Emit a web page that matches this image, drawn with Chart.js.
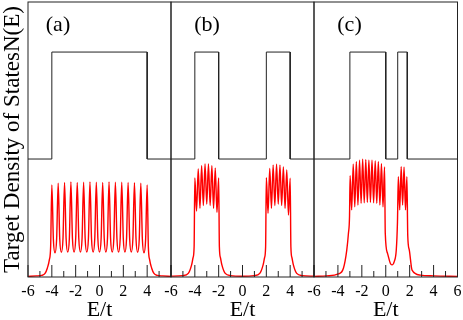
<!DOCTYPE html>
<html><head><meta charset="utf-8">
<script src="https://cdn.jsdelivr.net/npm/chart.js@4/dist/chart.umd.min.js"></script>
<style>
html,body{margin:0;padding:0;background:#fff;}
#wrap{position:relative;width:463px;height:320px;overflow:hidden;background:#fff;}
canvas{position:absolute;top:0;}
</style></head><body>
<div id="wrap">
<canvas id="ca" width="185" height="320" style="left:0px"></canvas>
<canvas id="cb" width="186" height="320" style="left:150px"></canvas>
<canvas id="cc" width="185" height="320" style="left:293px"></canvas>
</div>
<script>
// ---- data ----
const xTicks = [-6, -4, -2, 0, 2, 4, 6];
const minorTicks = [-5, -3, -1, 1, 3, 5];
const panelLabels = ['(a)', '(b)', '(c)'];
const yTitle = 'Target Density of StatesN(E)';
const xTitle = 'E/t';

// target step functions (black)
const stepAX = [-6, -4, -4, 4, 4, 6];
const stepAY = [0.429, 0.429, 0.818, 0.818, 0.429, 0.429];
const stepBX = [-6, -4, -4, -2, -2, 2, 2, 4, 4, 6];
const stepBY = [0.429, 0.429, 0.818, 0.818, 0.429, 0.429, 0.818, 0.818, 0.429, 0.429];
const stepCX = [-6, -3, -3, 0, 0, 1, 1, 1.8, 1.8, 6];
const stepCY = [0.429, 0.429, 0.818, 0.818, 0.429, 0.429, 0.818, 0.818, 0.429, 0.429];

// resulting density of states (red)
const dosAX = [-6, -5.3, -4.85, -4.57, -4.38, -4.21, -4.1,
  -4.000, -3.870, -3.733, -3.597, -3.467, -3.337, -3.200, -3.063, -2.933, -2.803, -2.667,
  -2.530, -2.400, -2.270, -2.133, -1.997, -1.867, -1.737, -1.600, -1.463, -1.333, -1.203, -1.067,
  -0.930, -0.800, -0.670, -0.533, -0.397, -0.267, -0.137, 0.000,
  0.137, 0.267, 0.397, 0.533, 0.670, 0.800, 0.930, 1.067, 1.203, 1.333, 1.463, 1.600,
  1.737, 1.867, 1.997, 2.133, 2.270, 2.400, 2.530, 2.667, 2.803, 2.933, 3.063, 3.200,
  3.337, 3.467, 3.597, 3.733, 3.870, 4.000,
  4.1, 4.21, 4.38, 4.57, 4.85, 5.3, 6];
const dosAY = [0.002, 0.004, 0.006, 0.013, 0.032, 0.062, 0.11,
  0.335, 0.136, 0.088, 0.138, 0.341, 0.139, 0.090, 0.140, 0.344, 0.140, 0.091,
  0.140, 0.346, 0.140, 0.091, 0.140, 0.344, 0.140, 0.091, 0.140, 0.345, 0.140, 0.091,
  0.140, 0.346, 0.140, 0.091, 0.140, 0.345, 0.140, 0.091,
  0.140, 0.344, 0.140, 0.091, 0.140, 0.346, 0.140, 0.091, 0.140, 0.345, 0.140, 0.091,
  0.140, 0.345, 0.140, 0.091, 0.140, 0.344, 0.140, 0.091, 0.140, 0.343, 0.140, 0.090,
  0.139, 0.341, 0.138, 0.088, 0.136, 0.335,
  0.11, 0.062, 0.032, 0.013, 0.006, 0.004, 0.002];

const dosBX = [-6, -5, -4.55, -4.27, -4.15, -4.06,
  -4.000, -3.857, -3.714, -3.571, -3.429, -3.286, -3.143, -3.000, -2.857, -2.714, -2.571, -2.429, -2.286, -2.143, -2.000,
  -1.94, -1.85, -1.73, -1.45, -1.0, 0, 1.0, 1.45, 1.73, 1.85, 1.94,
  2.000, 2.143, 2.286, 2.429, 2.571, 2.714, 2.857, 3.000, 3.143, 3.286, 3.429, 3.571, 3.714, 3.857, 4.000,
  4.06, 4.15, 4.27, 4.55, 5, 6];
const dosBY = [0.003, 0.005, 0.013, 0.044, 0.07, 0.11,
  0.36, 0.24, 0.393, 0.25, 0.405, 0.26, 0.411, 0.265, 0.411, 0.26, 0.405, 0.25, 0.396, 0.235, 0.36,
  0.11, 0.07, 0.044, 0.013, 0.005, 0.003, 0.005, 0.013, 0.044, 0.07, 0.11,
  0.361, 0.232, 0.395, 0.25, 0.407, 0.26, 0.41, 0.265, 0.407, 0.26, 0.4, 0.25, 0.389, 0.225, 0.359,
  0.11, 0.07, 0.044, 0.013, 0.005, 0.003];

const dosCX = [-6, -4.94, -3.96, -3.54, -3.26, -3.12, -3.03,
  -2.98, -2.85, -2.72, -2.59, -2.46, -2.325, -2.19, -2.06, -1.93, -1.80, -1.67, -1.54, -1.41, -1.28, -1.15, -1.015,
  -0.88, -0.75, -0.62, -0.49, -0.36, -0.23, -0.10,
  -0.04, 0.15, 0.38, 0.52, 0.71, 0.88, 0.98,
  1.05, 1.17, 1.29, 1.41, 1.53, 1.65, 1.77,
  1.84, 1.97, 2.2, 2.9, 4.0, 6];
const dosCY = [0.002, 0.004, 0.011, 0.032, 0.098, 0.159, 0.22,
  0.368, 0.244, 0.41, 0.255, 0.419, 0.262, 0.425, 0.268, 0.428, 0.27, 0.427, 0.272, 0.425, 0.272, 0.425, 0.27,
  0.422, 0.268, 0.419, 0.262, 0.412, 0.255, 0.40,
  0.159, 0.086, 0.05, 0.044, 0.056, 0.098, 0.2,
  0.365, 0.244, 0.401, 0.262, 0.399, 0.244, 0.365,
  0.15, 0.098, 0.025, 0.007, 0.004, 0.002];

// ---- helpers ----
const SERIF = '"Liberation Serif", "Times New Roman", serif';
const pts = (xs, ys) => xs.map((x, i) => ({x: x, y: ys[i]}));

const framePlugin = {
  id: 'frame',
  afterDatasetsDraw(chart, args, opts) {
    const ctx = chart.ctx, a = chart.chartArea, x = chart.scales.x;
    ctx.save();
    ctx.strokeStyle = '#222';
    ctx.lineWidth = 1;
    ctx.strokeRect(a.left, a.top, a.right - a.left, a.bottom - a.top);
    const drawTick = (v, len) => {
      const px = x.getPixelForValue(v);
      ctx.beginPath();
      ctx.moveTo(px, a.bottom);
      ctx.lineTo(px, a.bottom - len);
      ctx.stroke();
    };
    xTicks.forEach(v => drawTick(v, 12));
    minorTicks.forEach(v => drawTick(v, 6));
    ctx.font = '22px ' + SERIF;
    ctx.fillStyle = '#000';
    ctx.textAlign = 'center';
    ctx.textBaseline = 'middle';
    ctx.fillText(opts.label, a.left + opts.dx, a.top + 23);
    ctx.restore();
  }
};

function makeChart(id, stepX, stepY, dosX, dosY, cfg) {
  const yScale = cfg.showY ? {
    min: 0, max: 1, display: true,
    ticks: {display: false},
    grid: {display: false, drawTicks: false},
    border: {display: false},
    title: {display: true, text: yTitle, color: '#000',
            font: {family: SERIF, size: 23, lineHeight: 1}, padding: {top: 1, bottom: 0}},
    afterFit(s) { s.width = 28; }
  } : {min: 0, max: 1, display: false};
  return new Chart(document.getElementById(id), {
    type: 'line',
    data: {
      datasets: [
        {data: pts(stepX, stepY), borderColor: '#222', borderWidth: 1, pointRadius: 0, tension: 0, fill: false},
        {data: pts(dosX, dosY), borderColor: '#ff0000', borderWidth: 1.4, pointRadius: 0,
         cubicInterpolationMode: 'monotone', fill: false}
      ]
    },
    options: {
      responsive: false,
      animation: false,
      devicePixelRatio: 1,
      layout: {padding: cfg.padding},
      plugins: {legend: {display: false}, tooltip: {enabled: false}, frame: {label: cfg.label, dx: cfg.dx}},
      scales: {
        x: {
          type: 'linear', min: -6, max: 6,
          afterBuildTicks(s) { s.ticks = xTicks.map(v => ({value: v})); },
          ticks: {autoSkip: false, maxRotation: 0, padding: 5, color: '#000',
                  font: {family: SERIF, size: 16},
                  callback: v => (cfg.hideLast && v === 6) ? '' : String(v)},
          grid: {display: false, drawTicks: false},
          border: {display: false},
          title: {display: true, text: xTitle, color: '#000',
                  font: {family: SERIF, size: 22, lineHeight: 0.8}, padding: {top: 0, bottom: 1}},
          afterFit(s) { s.height = 43; }
        },
        y: yScale
      }
    },
    plugins: [framePlugin]
  });
}

makeChart('ca', stepAX, stepAY, dosAX, dosAY,
  {showY: true, hideLast: true, label: panelLabels[0], dx: 30, padding: {left: 0, right: 14, top: 2, bottom: 0}});
makeChart('cb', stepBX, stepBY, dosBX, dosBY,
  {showY: false, hideLast: true, label: panelLabels[1], dx: 36, padding: {left: 21, right: 22, top: 2, bottom: 0}});
makeChart('cc', stepCX, stepCY, dosCX, dosCY,
  {showY: false, hideLast: false, label: panelLabels[2], dx: 35.5, padding: {left: 21, right: 20.5, top: 2, bottom: 0}});
</script>
</body></html>
